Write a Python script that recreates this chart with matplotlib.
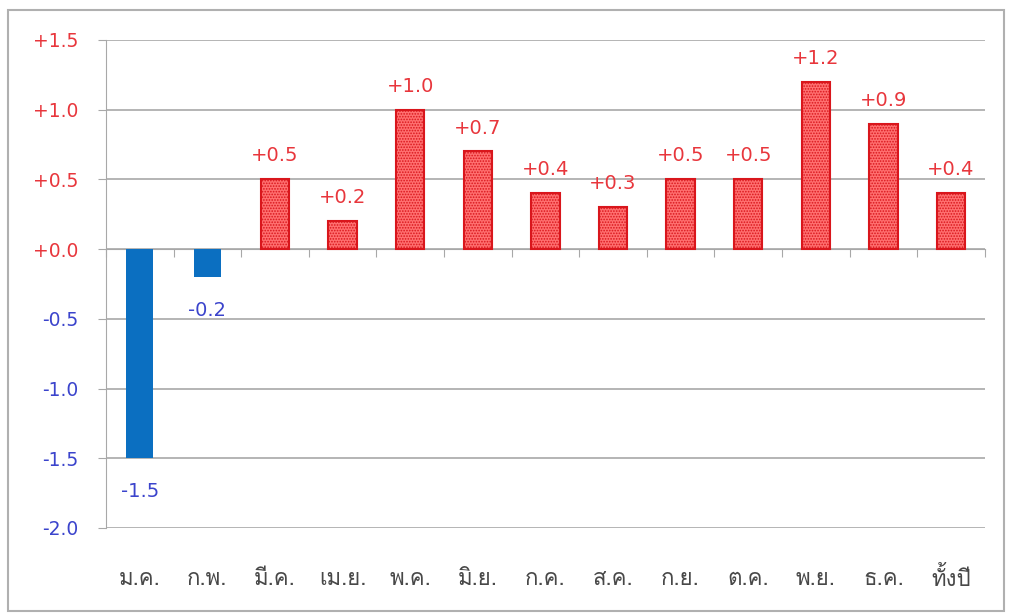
import numpy as np
import matplotlib as mpl
import matplotlib.pyplot as plt
from matplotlib import font_manager
from matplotlib.patches import Rectangle
from matplotlib.transforms import blended_transform_factory

mpl.use("Agg")

MONTHS = ["ม.ค.", "ก.พ.", "มี.ค.", "เม.ย.", "พ.ค.", "มิ.ย.", "ก.ค.",
          "ส.ค.", "ก.ย.", "ต.ค.", "พ.ย.", "ธ.ค.", "ทั้งปี"]
VALUES = [-1.5, -0.2, 0.5, 0.2, 1.0, 0.7, 0.4, 0.3, 0.5, 0.5, 1.2, 0.9, 0.4]
Y_TICKS = [1.5, 1.0, 0.5, 0.0, -0.5, -1.0, -1.5, -2.0]

RED_TEXT = "#e8363c"
BLUE_TEXT = "#3b44cc"
BAR_BLUE = "#0b6fc1"
BAR_RED = "#ff7070"
EDGE_RED = "#d9161c"
GRID = "#a8a8a8"


def find_thai_font():
    # look for an installed font that actually has Thai glyphs
    try:
        from fontTools.ttLib import TTFont
    except ImportError:
        return None
    for f in font_manager.fontManager.ttflist:
        try:
            tt = TTFont(f.fname, fontNumber=0, lazy=True)
            cmap = tt.getBestCmap()
            if cmap and 0x0E21 in cmap and 0x0E35 in cmap:
                return f.name
        except Exception:
            continue
    return None


thai_font = find_thai_font()
plt.rcParams["font.family"] = ["DejaVu Sans"]
plt.rcParams["hatch.linewidth"] = 0.8
label_family = [thai_font, "DejaVu Sans"] if thai_font else ["DejaVu Sans"]

fig = plt.figure(figsize=(10.09, 6.13), dpi=100)
fig.patches.append(Rectangle((0.008, 0.004), 0.987, 0.98, transform=fig.transFigure,
                             fill=False, edgecolor="#b0b0b0", linewidth=1.5))
ax = fig.add_axes([0.105, 0.1387, 0.871, 0.7963])

xs = np.arange(len(MONTHS))
for x, v in zip(xs, VALUES):
    if v < 0:
        ax.bar(x, v, 0.4, color=BAR_BLUE, zorder=3)
        ax.annotate(f"{v:.1f}", (x, v), xytext=(0, -17), textcoords="offset points",
                    ha="center", va="top", color=BLUE_TEXT, fontsize=14)
    else:
        ax.bar(x, v, 0.42, facecolor=BAR_RED, edgecolor=EDGE_RED, hatch="......",
               linewidth=1.5, zorder=3)
        ax.annotate(f"+{v:.1f}", (x, v), xytext=(0, 10), textcoords="offset points",
                    ha="center", va="bottom", color=RED_TEXT, fontsize=14)

ax.set_xlim(-0.5, len(MONTHS) - 0.5)
ax.set_ylim(-2.0, 1.5)
ax.set_yticks(Y_TICKS)
ax.set_yticklabels([f"+{t:.1f}" if t >= 0 else f"{t:.1f}" for t in Y_TICKS], fontsize=13.5)
for lab, t in zip(ax.get_yticklabels(), Y_TICKS):
    lab.set_color(RED_TEXT if t >= 0 else BLUE_TEXT)
ax.tick_params(axis="y", length=6, color=GRID, pad=14)
ax.grid(axis="y", color=GRID, linewidth=1.2, zorder=0)

# category axis sits on zero, tick marks between categories
ax.spines["bottom"].set_position(("data", 0))
ax.spines["bottom"].set_color(GRID)
ax.spines["left"].set_color(GRID)
ax.spines["top"].set_visible(False)
ax.spines["right"].set_visible(False)
ax.set_xticks(np.arange(-0.5, len(MONTHS)), [])
ax.tick_params(axis="x", length=6, color=GRID, direction="out")

trans = blended_transform_factory(ax.transData, ax.transAxes)
for x, m in zip(xs, MONTHS):
    ax.text(x, -0.105, m, transform=trans, ha="center", va="center",
            fontsize=16, color="#484848", family=label_family)

fig.savefig("out.png", dpi=100)
